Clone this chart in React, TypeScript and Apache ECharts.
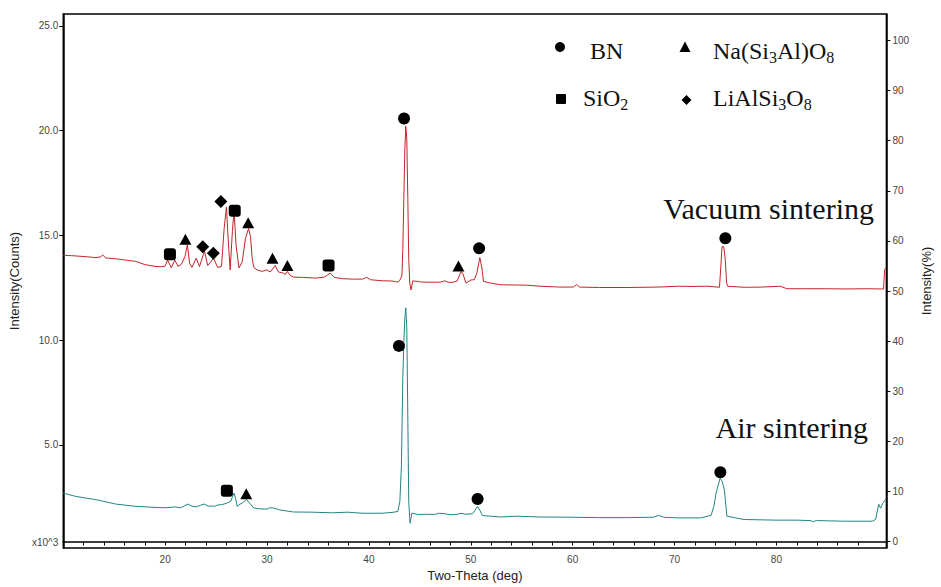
import React, { useEffect, useRef } from 'react';
import * as echarts from 'echarts';

// ---- axis ticks / labels ----
const xTickValues = [12, 14, 16, 18, 20, 22, 24, 26, 28, 30, 32, 34, 36, 38, 40, 42, 44, 46, 48, 50, 52, 54, 56, 58, 60, 62, 64, 66, 68, 70, 72, 74, 76, 78, 80, 82, 84, 86, 88];
const xLabelValues = [20, 30, 40, 50, 60, 70, 80];
const leftTickValues = [5, 10, 15, 20, 25];
const leftLabelValues = [0.35, 5, 10, 15, 20, 25];
const rightTickValues = [0, 10, 20, 30, 40, 50, 60, 70, 80, 90, 100];

// ---- XRD patterns (2θ, intensity ×10^3 counts) ----
const vacuumData: [number, number][] = [
  [10.0, 14.05], [10.78, 14.03], [11.74, 14.0], [12.71, 13.96], [13.2, 13.93], [13.68, 13.98], [13.88, 14.06], [14.17, 13.92],
  [15.14, 13.88], [16.1, 13.82], [17.07, 13.76], [18.04, 13.6], [18.53, 13.56], [19.01, 13.52], [19.5, 13.5], [19.98, 13.52],
  [20.24, 13.82], [20.6, 13.45], [20.95, 13.82], [21.27, 13.52], [21.6, 13.62], [21.95, 14.0], [22.18, 14.54], [22.4, 13.67],
  [22.63, 13.47], [23.05, 13.91], [23.37, 13.51], [23.86, 14.25], [24.18, 13.56], [24.76, 13.91], [25.15, 13.47], [25.53, 13.51],
  [25.79, 15.33], [26.02, 16.36], [26.18, 14.86], [26.38, 13.35], [26.6, 15.17], [26.76, 16.2], [26.96, 14.54], [27.25, 13.44],
  [27.57, 13.75], [27.89, 14.86], [28.19, 15.33], [28.38, 14.94], [28.54, 13.91], [28.7, 13.47], [29.02, 13.35], [29.51, 13.28],
  [29.99, 13.35], [30.32, 13.25], [30.8, 13.56], [31.12, 13.25], [31.61, 13.2], [31.77, 13.12], [32.0, 13.28], [32.26, 13.09],
  [32.58, 13.01], [33.55, 12.99], [34.84, 12.96], [35.65, 13.01], [36.19, 13.2], [36.62, 12.99], [37.42, 12.93], [38.39, 12.91],
  [39.36, 12.91], [39.78, 12.99], [40.17, 12.88], [41.3, 12.83], [42.27, 12.82], [42.85, 12.77], [43.04, 12.86], [43.24, 13.06],
  [43.33, 14.38], [43.43, 16.75], [43.53, 19.12], [43.62, 20.21], [43.72, 19.6], [43.82, 16.75], [43.91, 13.91], [44.01, 12.72],
  [44.14, 12.39], [44.3, 12.82], [44.86, 12.8], [45.17, 12.77], [46.43, 12.76], [47.11, 12.77], [47.43, 12.83], [47.79, 12.76],
  [48.25, 12.76], [48.66, 12.82], [49.05, 13.28], [49.24, 13.15], [49.53, 12.72], [50.02, 12.87], [50.34, 12.88], [50.6, 13.2],
  [50.89, 13.94], [51.09, 13.44], [51.25, 12.8], [51.96, 12.72], [52.93, 12.64], [54.38, 12.63], [55.51, 12.62], [56.8, 12.57],
  [58.74, 12.53], [60.1, 12.53], [60.39, 12.65], [60.68, 12.53], [62.62, 12.51], [65.52, 12.51], [68.43, 12.53], [70.37, 12.57],
  [71.82, 12.56], [73.28, 12.57], [74.41, 12.52], [74.54, 13.44], [74.66, 14.46], [74.83, 14.46], [74.97, 13.91], [75.12, 12.72],
  [75.21, 12.57], [76.83, 12.52], [78.6, 12.53], [80.38, 12.57], [81.03, 12.45], [82.97, 12.45], [84.9, 12.45], [86.84, 12.44],
  [88.78, 12.45], [90.33, 12.44], [90.52, 12.44], [90.62, 13.34], [90.72, 13.44],
];

const airData: [number, number][] = [
  [10.0, 2.69], [11.26, 2.53], [13.2, 2.38], [15.14, 2.17], [17.07, 2.06], [19.01, 2.01], [19.98, 1.99], [20.95, 2.03],
  [21.53, 1.99], [22.24, 2.17], [22.6, 2.06], [23.08, 2.04], [23.47, 2.11], [23.86, 2.17], [24.24, 2.06], [24.63, 2.08],
  [24.83, 2.06], [25.21, 2.13], [25.55, 2.14], [25.99, 2.2], [26.44, 2.3], [26.62, 2.53], [26.76, 2.69], [26.91, 2.44],
  [27.08, 2.06], [27.34, 2.16], [27.57, 2.22], [27.99, 2.38], [28.38, 2.16], [28.7, 1.98], [29.28, 1.94], [29.99, 1.93],
  [30.25, 1.99], [30.64, 1.98], [31.22, 1.89], [32.58, 1.79], [34.52, 1.78], [36.45, 1.75], [37.91, 1.78], [39.36, 1.73],
  [41.3, 1.73], [42.46, 1.78], [42.85, 1.82], [43.04, 2.3], [43.19, 3.96], [43.33, 8.22], [43.43, 9.88], [43.53, 11.07],
  [43.62, 11.54], [43.72, 10.59], [43.82, 6.33], [43.91, 2.3], [44.04, 1.25], [44.21, 1.73], [44.86, 1.67], [45.66, 1.68],
  [46.43, 1.67], [46.92, 1.73], [47.4, 1.71], [47.98, 1.66], [48.57, 1.67], [49.05, 1.73], [49.53, 1.68], [50.18, 1.71],
  [50.41, 1.87], [50.67, 2.06], [50.89, 1.87], [51.15, 1.62], [51.96, 1.59], [52.93, 1.55], [54.54, 1.59], [56.8, 1.55],
  [59.71, 1.54], [62.62, 1.52], [65.52, 1.52], [67.95, 1.54], [68.43, 1.63], [68.91, 1.54], [70.37, 1.51], [72.63, 1.51],
  [73.59, 1.63], [73.86, 2.06], [74.08, 2.69], [74.47, 3.4], [74.68, 3.25], [74.89, 2.85], [75.14, 1.59], [76.83, 1.43],
  [80.06, 1.4], [82.0, 1.4], [83.29, 1.38], [83.64, 1.33], [83.93, 1.38], [86.52, 1.35], [89.43, 1.35], [89.75, 1.44],
  [90.04, 2.16], [90.23, 1.97], [90.43, 2.2], [90.72, 2.39],
];

// ---- phase markers (2θ, intensity) ----
const bnMarks: [number, number][] = [[43.45, 20.58], [50.82, 14.38], [74.99, 14.86], [42.95, 9.72], [50.67, 2.41], [74.5, 3.69]];
const sio2Marks: [number, number][] = [[20.47, 14.1], [26.83, 16.17], [36.04, 13.56], [26.06, 2.8]];
const naMarks: [number, number][] = [[21.99, 14.81], [28.15, 15.6], [30.54, 13.91], [32.0, 13.56], [48.79, 13.54], [27.96, 2.66]];
const liMarks: [number, number][] = [[25.47, 16.62], [23.69, 14.46], [24.73, 14.15]];

const seriesNames = ['Vacuum sintering', 'Air sintering'];
const phaseNames = ['BN', 'SiO{s|2}', 'Na(Si{s|3}Al)O{s|8}', 'LiAlSi{s|3}O{s|8}'];

const RED = '#c6232b';
const TEAL = '#1f8585';
const SERIF = '"Liberation Serif", "Times New Roman", serif';
const SANS = '"Liberation Sans", Arial, sans-serif';

export default function App() {
  const ref = useRef<HTMLDivElement>(null);

  useEffect(() => {
    if (!ref.current) return;
    const chart = echarts.init(ref.current, undefined, { renderer: 'svg' });

    const axisLabelStyle = { fontFamily: SANS, fontSize: 10, color: '#444' };
    const axisLineStyle = { show: true, lineStyle: { color: '#000', width: 1.5 } };

    const legendText = (x: number, y: number, text: string) => ({
      type: 'text',
      x,
      y,
      style: {
        text,
        fill: '#111',
        fontFamily: SERIF,
        fontSize: 24,
        lineHeight: 28,
        align: 'left',
        textAlign: 'left',
        verticalAlign: 'middle',
        textVerticalAlign: 'middle',
        rich: {
          s: { fontFamily: SERIF, fontSize: 16, lineHeight: 16, verticalAlign: 'bottom', fill: '#111' },
        },
      },
    });

    const markerStyle = { color: '#000', opacity: 1 };

    const option: any = {
      animation: false,
      backgroundColor: '#fff',
      grid: {
        left: 57,
        right: 50,
        top: 14,
        bottom: 35,
        show: true,
        borderColor: '#000',
        borderWidth: 1.5,
        containLabel: false,
      },
      xAxis: {
        type: 'value',
        min: 10,
        max: 90.8,
        name: 'Two-Theta (deg)',
        nameLocation: 'middle',
        nameGap: 21,
        nameTextStyle: { fontFamily: SANS, fontSize: 13, color: '#222' },
        axisLine: axisLineStyle,
        axisTick: { show: true, length: 4, inside: false, lineStyle: { color: '#000', width: 1 }, customValues: xTickValues },
        axisLabel: { ...axisLabelStyle, margin: 6, customValues: xLabelValues, formatter: (v: number) => String(v) },
        splitLine: { show: false },
      },
      yAxis: [
        {
          type: 'value',
          position: 'left',
          min: 0.07,
          max: 25.57,
          name: 'Intensity(Counts)',
          nameLocation: 'middle',
          nameRotate: 90,
          nameGap: 34,
          nameTextStyle: { fontFamily: SANS, fontSize: 13, color: '#222' },
          axisLine: axisLineStyle,
          axisTick: { show: true, length: 4, lineStyle: { color: '#000', width: 1 }, customValues: leftTickValues },
          axisLabel: {
            ...axisLabelStyle,
            margin: 5,
            customValues: leftLabelValues,
            formatter: (v: number) => (v < 1 ? 'x10^3' : v.toFixed(1)),
          },
          splitLine: { show: false },
        },
        {
          type: 'value',
          position: 'right',
          min: -1.3,
          max: 105.3,
          name: 'Intensity(%)',
          nameLocation: 'middle',
          nameRotate: 90,
          nameGap: 33,
          nameTextStyle: { fontFamily: SANS, fontSize: 13, color: '#222' },
          axisLine: axisLineStyle,
          axisTick: { show: true, length: 4, lineStyle: { color: '#000', width: 1 }, customValues: rightTickValues },
          axisLabel: { ...axisLabelStyle, margin: 6, customValues: rightTickValues, formatter: (v: number) => String(v) },
          splitLine: { show: false },
        },
      ],
      series: [
        {
          name: seriesNames[0],
          type: 'line',
          data: vacuumData,
          showSymbol: false,
          lineStyle: { color: RED, width: 1 },
          z: 2,
        },
        {
          name: seriesNames[1],
          type: 'line',
          data: airData,
          showSymbol: false,
          lineStyle: { color: TEAL, width: 1 },
          z: 2,
        },
        { name: 'BN', type: 'scatter', data: bnMarks, symbol: 'circle', symbolSize: 12, itemStyle: markerStyle, z: 5 },
        { name: 'SiO2', type: 'scatter', data: sio2Marks, symbol: 'roundRect', symbolSize: 12, itemStyle: markerStyle, z: 5 },
        { name: 'Na(Si3Al)O8', type: 'scatter', data: naMarks, symbol: 'triangle', symbolSize: [12, 11], itemStyle: markerStyle, z: 5 },
        { name: 'LiAlSi3O8', type: 'scatter', data: liMarks, symbol: 'diamond', symbolSize: [13, 13], itemStyle: markerStyle, z: 5 },
      ],
      graphic: [
        // legend
        { type: 'circle', shape: { cx: 560, cy: 47, r: 5 }, style: { fill: '#000' } },
        legendText(590, 51, phaseNames[0]),
        { type: 'polygon', shape: { points: [[685, 41.5], [690.5, 52], [679.5, 52]] }, style: { fill: '#000' } },
        legendText(713, 51, phaseNames[2]),
        { type: 'rect', shape: { x: 556, y: 94, width: 10, height: 10, r: 1 }, style: { fill: '#000' } },
        legendText(583, 98, phaseNames[1]),
        { type: 'polygon', shape: { points: [[686.5, 95], [691.5, 100], [686.5, 105], [681.5, 100]] }, style: { fill: '#000' } },
        legendText(713, 98, phaseNames[3]),
        // curve labels
        {
          type: 'text',
          x: 874,
          y: 208,
          style: {
            text: seriesNames[0],
            fill: '#111',
            fontFamily: SERIF,
            fontSize: 30,
            align: 'right',
            textAlign: 'right',
            verticalAlign: 'middle',
            textVerticalAlign: 'middle',
          },
        },
        {
          type: 'text',
          x: 868,
          y: 427,
          style: {
            text: seriesNames[1],
            fill: '#111',
            fontFamily: SERIF,
            fontSize: 30,
            align: 'right',
            textAlign: 'right',
            verticalAlign: 'middle',
            textVerticalAlign: 'middle',
          },
        },
      ],
    };

    chart.setOption(option);
    return () => chart.dispose();
  }, []);

  return <div ref={ref} style={{ width: 941, height: 587, position: 'absolute', left: 0, top: 0 }} />;
}
